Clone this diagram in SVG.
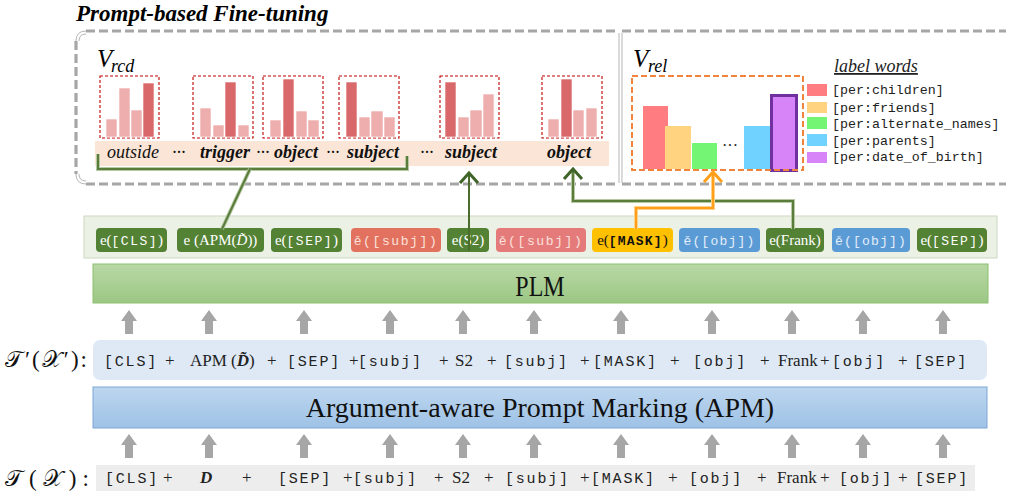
<svg xmlns="http://www.w3.org/2000/svg" width="1009" height="497" viewBox="0 0 1009 497">
<style>
.ser{font-family:"Liberation Serif","Times New Roman",serif}
.mono{font-family:"Liberation Mono","Courier New",monospace}
.it{font-style:italic}
.b{font-weight:bold}
.pale{fill:#eeaeae;stroke:#fff;stroke-width:0.6}
.dark{fill:#d9686a;stroke:#fff;stroke-width:0.6}
.rbox{fill:none;stroke:#c00000;stroke-width:1.1;stroke-dasharray:3 2}
.dash{fill:none;stroke:#a6a6a6;stroke-width:3.2;stroke-dasharray:9 4}
.thin{fill:none;stroke:#b5b5b5;stroke-width:1}
.word{font-family:"Liberation Serif",serif;font-style:italic;font-size:18px;fill:#111}
.tok{font-family:"Liberation Mono",monospace;font-size:15px;letter-spacing:1.8px;fill:#222}
.plus{font-family:"Liberation Serif",serif;font-size:17px;fill:#222}
.emb{font-size:15px}
.gbox{fill:#548235}
.leg{font-family:"Liberation Mono",monospace;font-size:13.3px;fill:#222}
.gl{fill:none;stroke:#5a7d3c;stroke-width:2}
.glh{fill:none;stroke:#b7c9a3;stroke-width:4}
</style>
<defs>
<linearGradient id="plmg" x1="0" y1="0" x2="0" y2="1"><stop offset="0" stop-color="#b8d8a5"/><stop offset="1" stop-color="#9cc784"/></linearGradient>
<linearGradient id="apmg" x1="0" y1="0" x2="0" y2="1"><stop offset="0" stop-color="#bdd6ef"/><stop offset="1" stop-color="#9ec2e6"/></linearGradient>
<path id="ua" d="M0,0 L8,11 L4,11 L4,24 L-4,24 L-4,11 L-8,11 Z" fill="#a6a6a6"/>
</defs>

<text x="76" y="20.5" class="ser it b" font-size="23">Prompt-based Fine-tuning</text>

<g id="frame-rcd">
<path class="dash" d="M86,31 H619"/>
<path class="dash" d="M86,184 H619"/>
<path class="dash" d="M76,41 V174"/>
<path class="thin" d="M76,41 Q76,31 86,31 M79,41 Q79,34 86,34 M76,174 Q76,184 86,184 M79,174 Q79,181 86,181"/>
<path class="thin" d="M619,33 V183"/>
</g>
<g id="frame-rel">
<path class="dash" d="M622,31 H1006"/>
<path class="dash" d="M622,184 H1006"/>
<path class="thin" d="M622,33 V183"/>
</g>

<g id="vrcd">
<text x="97" y="67" class="ser it" font-size="25">V</text>
<text x="111" y="72" class="ser it" font-size="18">rcd</text>
</g>

<g id="rcd-charts">
<rect class="rbox" x="100" y="76" width="59" height="62"/>
<rect class="pale" x="106" y="119" width="11" height="18"/><rect class="pale" x="119" y="88" width="11" height="49"/><rect class="pale" x="131" y="110" width="11" height="27"/><rect class="dark" x="143" y="83" width="11" height="54"/>
<rect class="rbox" x="193" y="76" width="60" height="62"/>
<rect class="pale" x="200" y="108" width="11" height="29"/><rect class="pale" x="213" y="125" width="11" height="12"/><rect class="dark" x="225" y="82" width="11" height="55"/><rect class="pale" x="238" y="125" width="11" height="12"/>
<rect class="rbox" x="263" y="76" width="60" height="62"/>
<rect class="pale" x="270" y="120" width="11" height="17"/><rect class="dark" x="283" y="79" width="11" height="58"/><rect class="pale" x="296" y="111" width="11" height="26"/><rect class="pale" x="308" y="120" width="11" height="17"/>
<rect class="rbox" x="339" y="76" width="60" height="62"/>
<rect class="dark" x="346" y="82" width="11" height="55"/><rect class="pale" x="359" y="117" width="11" height="20"/><rect class="pale" x="371" y="111" width="12" height="26"/><rect class="pale" x="384" y="117" width="11" height="20"/>
<rect class="rbox" x="440" y="76" width="59" height="62"/>
<rect class="dark" x="445" y="82" width="11" height="55"/><rect class="pale" x="458" y="117" width="11" height="20"/><rect class="pale" x="470" y="110" width="12" height="27"/><rect class="pale" x="483" y="94" width="11" height="43"/>
<rect class="rbox" x="542" y="76" width="60" height="62"/>
<rect class="pale" x="548" y="119" width="11" height="18"/><rect class="dark" x="561" y="79" width="11" height="58"/><rect class="pale" x="573" y="110" width="11" height="27"/><rect class="pale" x="586" y="108" width="11" height="29"/>
</g>

<g id="label-band">
<rect x="95" y="141" width="514" height="25" fill="#fbe5d6"/>
<text x="107" y="158" class="word">outside</text>
<text x="172" y="158" class="word">···</text>
<text x="200" y="158" class="word b">trigger</text>
<text x="256" y="158" class="word">···</text>
<text x="274" y="158" class="word b">object</text>
<text x="326" y="158" class="word">···</text>
<text x="347" y="158" class="word b">subject</text>
<text x="420" y="158" class="word">···</text>
<text x="445" y="158" class="word b">subject</text>
<text x="547" y="158" class="word b">object</text>
</g>

<g id="vrel">
<text x="633" y="67" class="ser it" font-size="25">V</text>
<text x="648" y="72" class="ser it" font-size="18">rel</text>
</g>

<g id="rel-chart">
<rect x="643" y="106" width="25" height="63" fill="#ff7c80"/>
<rect x="665" y="126" width="26" height="43" fill="#ffd37f"/>
<rect x="692" y="143" width="25" height="26" fill="#74f574"/>
<text x="722" y="151" class="ser" font-size="16" fill="#222">···</text>
<rect x="744" y="126" width="26" height="43" fill="#6fd2ff"/>
<rect x="771.5" y="95.5" width="25" height="75" fill="#d784f8" stroke="#7030a0" stroke-width="3"/>
<rect x="632" y="76" width="171" height="94" fill="none" stroke="#f0843c" stroke-width="2" stroke-dasharray="6 3"/>
</g>

<g id="legend">
<text x="834" y="72" class="ser it" font-size="18" text-decoration="underline" fill="#222">label words</text>
<rect x="807" y="84" width="20" height="12" fill="#ff7c80"/>
<rect x="807" y="102" width="20" height="11" fill="#ffd37f"/>
<rect x="807" y="117" width="20" height="12" fill="#74f574"/>
<rect x="807" y="134" width="20" height="12" fill="#6fd2ff"/>
<rect x="807" y="152" width="20" height="11" fill="#d784f8"/>
<text x="832" y="94" class="leg">[per:children]</text>
<text x="832" y="112" class="leg">[per:friends]</text>
<text x="832" y="128" class="leg">[per:alternate_names]</text>
<text x="832" y="145" class="leg">[per:parents]</text>
<text x="832" y="161" class="leg">[per:date_of_birth]</text>
</g>

<g id="embeddings">
<rect x="84" y="216" width="913" height="42" fill="#ebf1e5" stroke="#ccd9c0" stroke-width="1"/>
<g id="e-cls"><rect class="gbox" x="96" y="228" width="71" height="24" rx="4"/><text x="131.5" y="245" text-anchor="middle" fill="#fff" class="ser emb">e(<tspan class="mono" font-size="13" letter-spacing="1.5">[CLS]</tspan>)</text></g>
<g id="e-apm"><rect class="gbox" x="177" y="228" width="87" height="24" rx="4"/><text x="220.5" y="245" text-anchor="middle" fill="#fff" class="ser emb">e (APM(<tspan class="it">D̃</tspan>))</text></g>
<g id="e-sep1"><rect class="gbox" x="271" y="228" width="71" height="24" rx="4"/><text x="306.5" y="245" text-anchor="middle" fill="#fff" class="ser emb">e(<tspan class="mono" font-size="13" letter-spacing="1.5">[SEP]</tspan>)</text></g>
<g id="e-subj1"><rect x="351" y="228" width="90" height="24" rx="4" fill="#e2725f"/><text x="396" y="245" text-anchor="middle" fill="#fde0da" class="mono" font-size="13" letter-spacing="1.6">ě([subj])</text></g>
<g id="e-s2"><rect class="gbox" x="447" y="228" width="42" height="24" rx="4"/><text x="468" y="245" text-anchor="middle" fill="#fff" class="ser emb">e(S2)</text></g>
<g id="e-subj2"><rect x="496" y="228" width="90" height="24" rx="4" fill="#e47b7a"/><text x="541" y="245" text-anchor="middle" fill="#fde0da" class="mono" font-size="13" letter-spacing="1.6">ě([subj])</text></g>
<g id="e-mask"><rect x="592" y="228" width="81" height="24" rx="4" fill="#ffc000"/><text x="632.5" y="245" text-anchor="middle" fill="#111" class="ser emb">e(<tspan class="mono b" font-size="13" letter-spacing="1.2">[MASK]</tspan>)</text></g>
<g id="e-obj1"><rect x="679" y="228" width="81" height="24" rx="4" fill="#5b9bd5"/><text x="719.5" y="245" text-anchor="middle" fill="#e3eefa" class="mono" font-size="13" letter-spacing="1.2">ě([obj])</text></g>
<g id="e-frank"><rect class="gbox" x="766" y="228" width="58" height="24" rx="4"/><text x="795" y="245" text-anchor="middle" fill="#fff" class="ser emb">e(Frank)</text></g>
<g id="e-obj2"><rect x="832" y="228" width="78" height="24" rx="4" fill="#5b9bd5"/><text x="871" y="245" text-anchor="middle" fill="#e3eefa" class="mono" font-size="13" letter-spacing="1.2">ě([obj])</text></g>
<g id="e-sep2"><rect class="gbox" x="917" y="228" width="70" height="24" rx="4"/><text x="952" y="245" text-anchor="middle" fill="#fff" class="ser emb">e(<tspan class="mono" font-size="13" letter-spacing="1.5">[SEP]</tspan>)</text></g>
</g>

<g id="plm">
<rect x="93" y="264" width="895" height="39" fill="url(#plmg)" stroke="#8dbf70" stroke-width="1"/>
<text x="540" y="296" text-anchor="middle" class="ser" font-size="30" transform="translate(540,0) scale(0.8,1) translate(-540,0)" fill="#111">PLM</text>
</g>

<g id="arrows-upper">
<use href="#ua" x="129" y="310"/><use href="#ua" x="209" y="310"/><use href="#ua" x="304" y="310"/><use href="#ua" x="390" y="310"/><use href="#ua" x="463" y="310"/><use href="#ua" x="534" y="310"/><use href="#ua" x="621" y="310"/><use href="#ua" x="712" y="310"/><use href="#ua" x="792" y="310"/><use href="#ua" x="863" y="310"/><use href="#ua" x="943" y="310"/>
</g>

<g id="t-prime">
<text x="5" y="367" class="ser" font-size="23" textLength="82" lengthAdjust="spacing" fill="#111">𝒯′(𝒳′):</text>
<rect x="93" y="340" width="894" height="40" rx="7" fill="#dfe9f5"/>
<text y="366" class="tok" x="104">[CLS]</text>
<text y="366" class="plus" x="165">+</text>
<text y="366" class="plus" x="190">APM (<tspan class="it b">D̃</tspan>)</text>
<text y="366" class="plus" x="267">+</text>
<text y="366" class="tok" x="287">[SEP]</text>
<text y="366" class="plus" x="349">+</text>
<text y="366" class="tok" x="358">[subj]</text>
<text y="366" class="plus" x="439">+</text>
<text y="366" class="plus" x="455">S2</text>
<text y="366" class="plus" x="487">+</text>
<text y="366" class="tok" x="504">[subj]</text>
<text y="366" class="plus" x="580">+</text>
<text y="366" class="tok" x="593">[MASK]</text>
<text y="366" class="plus" x="670">+</text>
<text y="366" class="tok" x="693">[obj]</text>
<text y="366" class="plus" x="760">+</text>
<text y="366" class="plus" x="778">Frank</text>
<text y="366" class="plus" x="820">+</text>
<text y="366" class="tok" x="832">[obj]</text>
<text y="366" class="plus" x="898">+</text>
<text y="366" class="tok" x="914">[SEP]</text>
</g>

<g id="apm">
<rect x="93" y="387" width="894" height="41" fill="url(#apmg)" stroke="#7fa7d6" stroke-width="1"/>
<text x="540" y="417" text-anchor="middle" class="ser" font-size="28" fill="#111">Argument-aware Prompt Marking (APM)</text>
</g>

<g id="arrows-lower">
<use href="#ua" x="129" y="434"/><use href="#ua" x="209" y="434"/><use href="#ua" x="304" y="434"/><use href="#ua" x="390" y="434"/><use href="#ua" x="463" y="434"/><use href="#ua" x="534" y="434"/><use href="#ua" x="621" y="434"/><use href="#ua" x="712" y="434"/><use href="#ua" x="792" y="434"/><use href="#ua" x="863" y="434"/><use href="#ua" x="943" y="434"/>
</g>

<g id="t-orig">
<text x="5" y="486" class="ser" font-size="23" textLength="84" lengthAdjust="spacing" fill="#111">𝒯(𝒳):</text>
<rect x="96" y="465" width="879" height="26" fill="#ededed"/>
<text y="483" class="tok" x="105">[CLS]</text>
<text y="483" class="plus" x="163">+</text>
<text y="483" class="plus it b" x="200">D</text>
<text y="483" class="plus" x="242">+</text>
<text y="483" class="tok" x="278">[SEP]</text>
<text y="483" class="plus" x="343">+</text>
<text y="483" class="tok" x="353">[subj]</text>
<text y="483" class="plus" x="434">+</text>
<text y="483" class="plus" x="452">S2</text>
<text y="483" class="plus" x="484">+</text>
<text y="483" class="tok" x="505">[subj]</text>
<text y="483" class="plus" x="580">+</text>
<text y="483" class="tok" x="591">[MASK]</text>
<text y="483" class="plus" x="668">+</text>
<text y="483" class="tok" x="689">[obj]</text>
<text y="483" class="plus" x="757">+</text>
<text y="483" class="plus" x="777">Frank</text>
<text y="483" class="plus" x="820">+</text>
<text y="483" class="tok" x="839">[obj]</text>
<text y="483" class="plus" x="898">+</text>
<text y="483" class="tok" x="915">[SEP]</text>
</g>

<g id="connectors">
<path class="glh" d="M98,154 V169 H407 V156"/>
<path class="gl" d="M98,154 V169 H407 V156"/>
<path class="glh" d="M250,169 L222,229"/>
<path class="gl" d="M250,169 L222,229"/>
<path d="M469,251 V174" fill="none" stroke="#4a6d2e" stroke-width="2"/>
<path d="M460,183 L469,173 L478,183" fill="none" stroke="#3f6427" stroke-width="3"/>
<path class="glh" d="M793,229 V201 H573 V170"/>
<path class="gl" d="M793,229 V201 H573 V170"/>
<path d="M564,179 L573,169 L582,179" fill="none" stroke="#3f6427" stroke-width="3"/>
<path d="M636,229 V208 H713 V173" fill="none" stroke="#ffd08a" stroke-width="4"/>
<path d="M636,229 V208 H713 V173" fill="none" stroke="#ff9f1a" stroke-width="2"/>
<path d="M704,182 L713,172 L722,182" fill="none" stroke="#ff9f1a" stroke-width="3"/>
</g>
</svg>
